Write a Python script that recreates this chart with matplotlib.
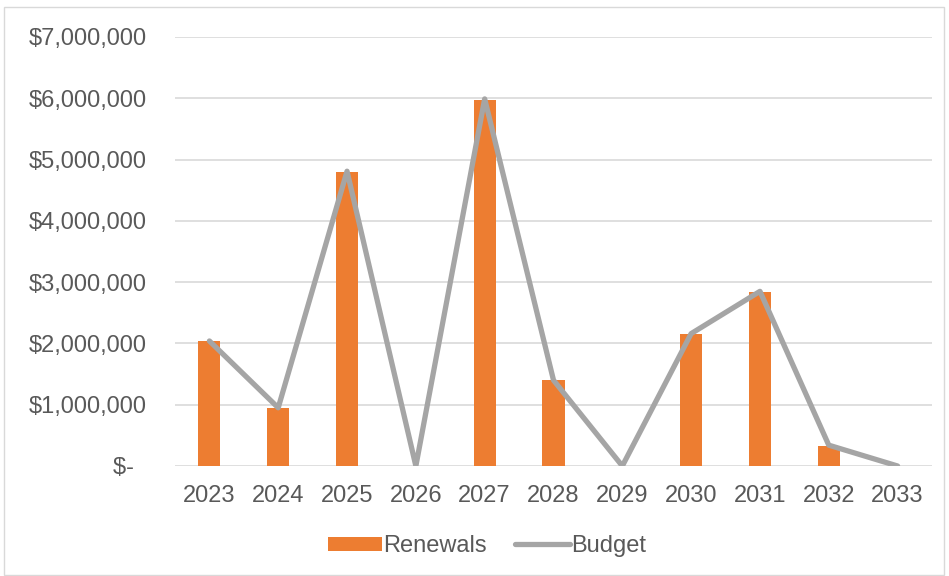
import matplotlib
matplotlib.use("Agg")
import matplotlib.pyplot as plt
from matplotlib.patches import Rectangle
from matplotlib.ticker import FuncFormatter

# Yearly renewals vs budget
years = ["2023", "2024", "2025", "2026", "2027", "2028", "2029", "2030", "2031", "2032", "2033"]
renewals = [2040000, 950000, 4800000, 0, 5970000, 1400000, 0, 2150000, 2840000, 330000, 0]
budget = [2040000, 950000, 4810000, 0, 5990000, 1400000, 0, 2160000, 2850000, 340000, 0]

plt.rcParams['font.family'] = ['Liberation Sans', 'DejaVu Sans']
text_color = '#595959'
fs = 17

fig = plt.figure(figsize=(9.49, 5.76), dpi=100)
ax = fig.add_axes([175 / 949, 1 - 466 / 576, 757 / 949, 429 / 576])

x = list(range(len(years)))
bars = ax.bar(x, renewals, width=0.32, color='#ED7D31', label='Renewals', zorder=2)
line, = ax.plot(x, budget, color='#A5A5A5', linewidth=3.8, label='Budget', zorder=3,
                solid_joinstyle='round', solid_capstyle='round')

ax.set_xlim(-0.5, len(years) - 0.5)
ax.set_ylim(0, 7000000)
ax.set_yticks(range(0, 7000001, 1000000))


def money(v, pos):
    if v == 0:
        return '$-  '
    return '${:,.0f}'.format(v)


ax.yaxis.set_major_formatter(FuncFormatter(money))
ax.set_xticks(x)
ax.set_xticklabels(years)
ax.tick_params(axis='both', length=0, labelsize=fs, colors=text_color)
ax.tick_params(axis='y', pad=20)
ax.tick_params(axis='x', pad=14)

ax.grid(axis='y', color='#D9D9D9', linewidth=1.2, zorder=0)
ax.set_axisbelow(True)
for s in ax.spines.values():
    s.set_visible(False)

fig.legend([bars, line], ['Renewals', 'Budget'], loc='center',
           bbox_to_anchor=(487 / 949, 1 - 546 / 576), ncol=2, frameon=False,
           fontsize=fs, labelcolor=text_color, handlelength=2.3,
           handleheight=0.55, handletextpad=0.05, columnspacing=1.2)

# thin border round the whole chart
fig.patches.append(Rectangle((4 / 949, 1 / 576), 940 / 949, 568 / 576,
                             transform=fig.transFigure, fill=False,
                             edgecolor='#D9D9D9', linewidth=1))

fig.savefig('out.png', dpi=100)
